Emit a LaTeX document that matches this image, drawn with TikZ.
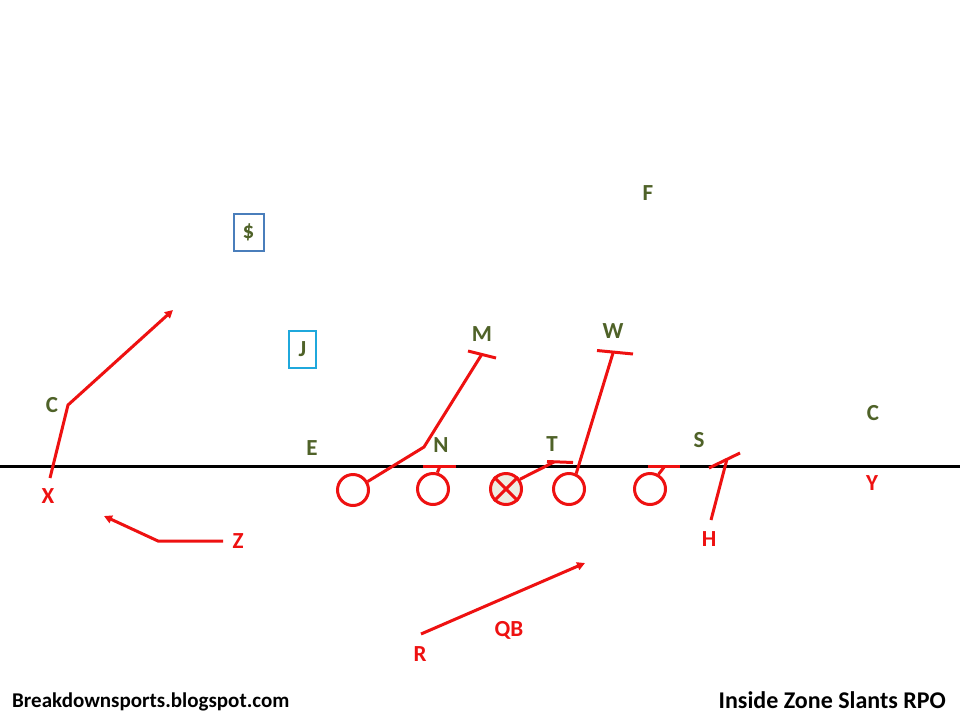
\documentclass[tikz,border=0pt]{standalone}
\usepackage{fontspec}
\setmainfont{Carlito}
\usetikzlibrary{arrows.meta}
\definecolor{dgreen}{HTML}{4F6228}
\definecolor{fred}{HTML}{EE1111}
\definecolor{boxblue}{HTML}{4A7EBB}
\definecolor{boxcyan}{HTML}{1FA8DC}
\definecolor{cfill}{HTML}{EEECE1}
\tikzset{
  defl/.style={text=dgreen,font=\bfseries\fontsize{23}{26}\selectfont,inner sep=0pt},
  offl/.style={text=fred,font=\bfseries\fontsize{23}{26}\selectfont,inner sep=0pt},
  foot/.style={text=black,font=\bfseries\fontsize{21}{24}\selectfont,inner sep=0pt},
  lineman/.style={circle,draw=fred,line width=3pt,minimum size=31pt,inner sep=0pt},
  route/.style={draw=fred,line width=3pt},
  arr/.style={route,-{Triangle[length=8pt,width=8pt]}},
  dbox/.style={defl,draw,line width=2pt,minimum width=30pt,minimum height=37pt}
}
\begin{document}
\begin{tikzpicture}[x=1pt,y=-1pt]
\useasboundingbox (0,0) rectangle (960,720);
\fill[white] (0,0) rectangle (960,720);
% line of scrimmage
\coordinate (losL) at (0,466);
\coordinate (losR) at (960,466);
\draw[line width=3pt] (losL) -- (losR);
% defenders
\node[defl] (F) at (648,193) {F};
\node[dbox,draw=boxblue] (dollar) at (248.5,232) {\$};
\node[dbox,draw=boxcyan,minimum width=27pt] (J) at (302.5,349) {J};
\node[defl] (M) at (482,334) {M};
\node[defl] (W) at (613,331) {W};
\node[defl] (CL) at (52,405) {C};
\node[defl] (CR) at (873,413) {C};
\node[defl] (E) at (312,448) {E};
\node[defl] (N) at (441,445) {N};
\node[defl] (T) at (552,444) {T};
\node[defl] (S) at (699,440) {S};
% offense
\node[lineman] (LT) at (353,490) {};
\node[lineman] (LG) at (433,489) {};
\node[lineman,fill=cfill] (Cn) at (506,489) {};
\node[lineman] (RG) at (569,489) {};
\node[lineman] (RT) at (650,489) {};
\draw[route] (Cn.north west) -- (Cn.south east);
\draw[route] (Cn.north east) -- (Cn.south west);
\node[offl] (X) at (48,496) {X};
\node[offl] (Z) at (238,541) {Z};
\node[offl] (H) at (709,539) {H};
\node[offl] (Y) at (872,483) {Y};
\node[offl] (R) at (420,654) {R};
\node[offl] (QB) at (509,630) {QB};
% footer
\node[foot,anchor=west] (site) at (12,702) {Breakdownsports.blogspot.com};
\node[foot,anchor=east,font=\bfseries\fontsize{24}{27}\selectfont] (title) at (946,700) {Inside Zone Slants RPO};
% blocking
\coordinate (m1) at (424,447);
\coordinate (mEnd) at (482,354);
\draw[route] (LT.30) -- (m1) -- (mEnd);
\coordinate (mb1) at (468,351); \coordinate (mb2) at (496,358);
\draw[route] (mb1) -- (mb2);
\coordinate (nEnd) at (440,466);
\draw[route] (LG.75) -- (nEnd);
\coordinate (nb1) at (423,466); \coordinate (nb2) at (456,466);
\draw[route] (nb1) -- (nb2);
\coordinate (tEnd) at (554,462);
\draw[route] (Cn.35) -- (tEnd);
\coordinate (tb1) at (547,461.5); \coordinate (tb2) at (573,462.5);
\draw[route] (tb1) -- (tb2);
\coordinate (wEnd) at (613,353);
\draw[route] (RG.65) -- (wEnd);
\coordinate (wb1) at (597,350.5); \coordinate (wb2) at (633,354);
\draw[route] (wb1) -- (wb2);
\coordinate (sEnd) at (665,466);
\draw[route] (RT.60) -- (sEnd);
\coordinate (sb1) at (648,466); \coordinate (sb2) at (680,466);
\draw[route] (sb1) -- (sb2);
\coordinate (hStart) at (711,520); \coordinate (hEnd) at (727,459);
\draw[route] (hStart) -- (hEnd);
\coordinate (hb1) at (709,468); \coordinate (hb2) at (740,453);
\draw[route] (hb1) -- (hb2);
% routes
\coordinate (xStart) at (50,478); \coordinate (xBend) at (68,405); \coordinate (xEnd) at (173,310);
\draw[arr] (xStart) -- (xBend) -- (xEnd);
\coordinate (zStart) at (223,541); \coordinate (zBend) at (158,541); \coordinate (zEnd) at (104,516);
\draw[arr] (zStart) -- (zBend) -- (zEnd);
\coordinate (rStart) at (421,634); \coordinate (rEnd) at (585,563);
\draw[arr] (rStart) -- (rEnd);
\end{tikzpicture}
\end{document}
